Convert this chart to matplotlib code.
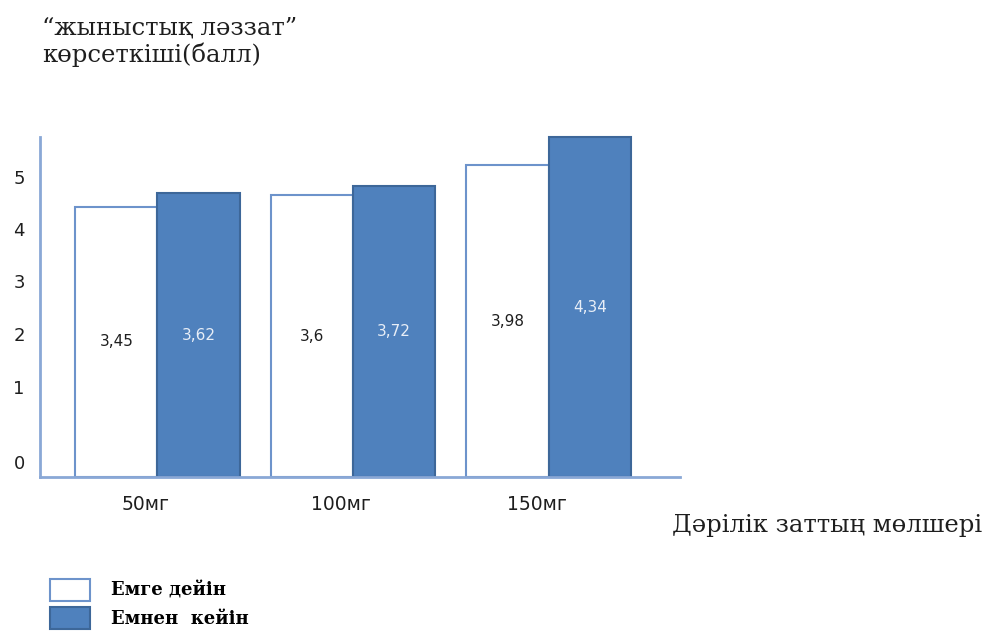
import matplotlib
matplotlib.use('Agg')
import matplotlib.pyplot as plt
from matplotlib.patches import Patch
import numpy as np

doses = ['50мг', '100мг', '150мг']
before = [3.45, 3.6, 3.98]
after = [3.62, 3.72, 4.34]
before_text = ['3,45', '3,6', '3,98']
after_text = ['3,62', '3,72', '4,34']
score_ticks = ['0', '1', '2', '3', '4', '5']

serif = ['DejaVu Serif']
blue = '#4F81BD'
axis_col = '#8AA8D6'
ink = '#1e1e1e'

fig = plt.figure(figsize=(10.01, 6.43), dpi=100)
ax = fig.add_axes([0.04, 0.258, 0.639, 0.529])

x = np.arange(len(doses))
w = 0.42
ax.bar(x - w / 2, before, w, color='white', edgecolor='#6D93CB', linewidth=1.5, clip_on=False)
ax.bar(x + w / 2, after, w, color=blue, edgecolor='#3D6799', linewidth=1.5, clip_on=False)

for i in range(len(doses)):
    ax.text(x[i] - w / 2, before[i] / 2, before_text[i], ha='center', va='center',
            fontsize=11, color=ink)
    ax.text(x[i] + w / 2, after[i] / 2, after_text[i], ha='center', va='center',
            fontsize=11, color='#E8EEF7')

ax.set_xlim(-0.6, 2.67)
ymax = max(after)
ax.set_ylim(0, ymax)

# score labels sit at fixed heights along the left axis
tick_frac = [0.044, 0.265, 0.421, 0.576, 0.729, 0.882]
ax.set_yticks([f * ymax for f in tick_frac])
ax.set_yticklabels(score_ticks, fontsize=13, color=ink)
ax.tick_params(axis='y', length=0, pad=11)
ax.set_xticks(x - 0.06)
ax.set_xticklabels(doses, fontsize=13.5, color=ink)
ax.tick_params(axis='x', length=0, pad=13)

for s in ['top', 'right']:
    ax.spines[s].set_visible(False)
for s in ['left', 'bottom']:
    ax.spines[s].set_color(axis_col)
    ax.spines[s].set_linewidth(2)

fig.text(0.042, 0.975, '“жыныстық ләззат”\nкөрсеткіші(балл)', family=serif,
         fontsize=17.5, color=ink, va='top', linespacing=1.2)
fig.text(0.671, 0.1835, 'Дәрілік заттың мөлшері', family=serif, fontsize=17.5,
         color=ink, va='center')

handles = [Patch(facecolor='white', edgecolor='#6D93CB', linewidth=1.5),
           Patch(facecolor=blue, edgecolor='#3D6799', linewidth=1.5)]
fig.legend(handles, ['Емге дейін', 'Емнен  кейін'], loc='upper left',
           bbox_to_anchor=(0.05, 0.1), frameon=False,
           prop={'family': serif, 'size': 13, 'weight': 'bold'},
           handlelength=2.2, handleheight=1.5, labelspacing=0.35, handletextpad=1.2,
           borderaxespad=0, borderpad=0)

fig.savefig('out.png', dpi=100)
